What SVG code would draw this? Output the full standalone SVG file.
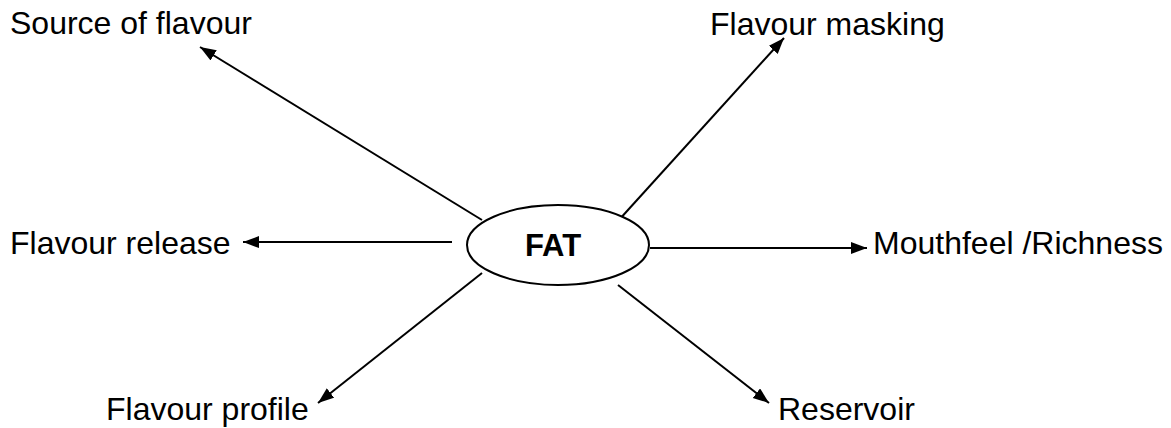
<svg xmlns="http://www.w3.org/2000/svg" width="1171" height="428" viewBox="0 0 1171 428">
  <style>
    .label { font-family: "Liberation Sans", Arial, sans-serif; font-size: 32px; fill: #000; }
    .core { font-family: "Liberation Sans", Arial, sans-serif; font-size: 31px; font-weight: bold; fill: #000; }
    .link { stroke: #000; stroke-width: 2; fill: none; marker-end: url(#head); }
  </style>
  <defs>
    <marker id="head" markerUnits="userSpaceOnUse" markerWidth="17" markerHeight="13" refX="16" refY="6" orient="auto">
      <path d="M0,0 L16,6 L0,12 z" fill="#000"/>
    </marker>
  </defs>
  <rect width="1171" height="428" fill="#fff"/>

  <!-- connectors radiating from the centre -->
  <g id="connectors">
    <line class="link" x1="482" y1="220" x2="200" y2="47"/>
    <line class="link" x1="618" y1="221" x2="784" y2="38"/>
    <line class="link" x1="452" y1="242" x2="243" y2="242"/>
    <line class="link" x1="650" y1="248" x2="867" y2="248"/>
    <line class="link" x1="482" y1="273" x2="318" y2="403"/>
    <line class="link" x1="618" y1="285" x2="769" y2="403"/>
  </g>

  <!-- central node -->
  <g id="fat">
    <ellipse cx="558" cy="245" rx="91" ry="40" fill="#fff" stroke="#000" stroke-width="2"/>
    <text class="core" x="553" y="256" text-anchor="middle">FAT</text>
  </g>

  <g id="source-of-flavour"><text class="label" x="10" y="34">Source of flavour</text></g>
  <g id="flavour-masking"><text class="label" x="710" y="35">Flavour masking</text></g>
  <g id="flavour-release"><text class="label" x="10" y="254">Flavour release</text></g>
  <g id="mouthfeel"><text class="label" x="873" y="254">Mouthfeel /Richness</text></g>
  <g id="flavour-profile"><text class="label" x="106" y="420">Flavour profile</text></g>
  <g id="reservoir"><text class="label" x="778" y="420">Reservoir</text></g>
</svg>
